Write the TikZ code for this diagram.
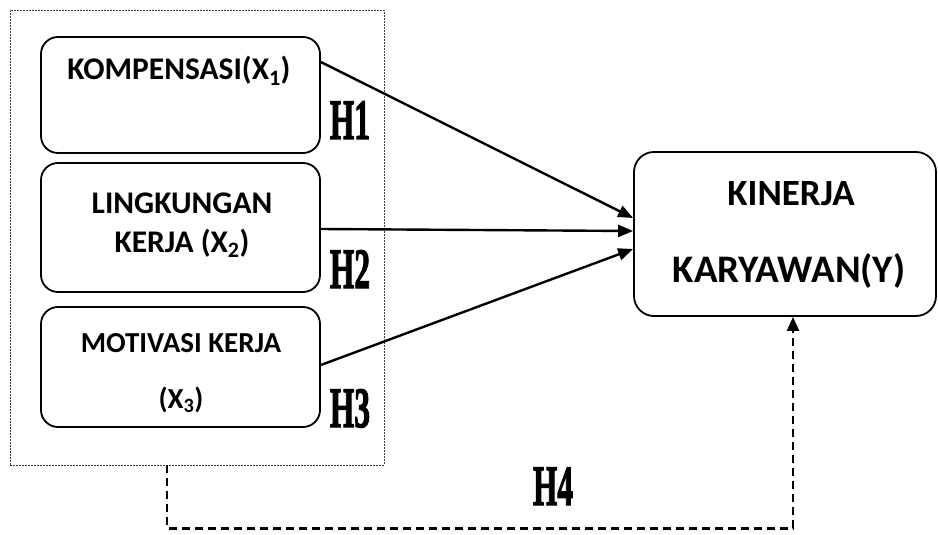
\documentclass[tikz,border=0pt]{standalone}
\usepackage{fontspec}
\setmainfont{Carlito}
\newfontface\hfont[FakeBold=2.5]{Liberation Serif Bold}
\usetikzlibrary{arrows.meta}

\tikzset{
  varbox/.style={draw, line width=1.8pt, rounded corners=17pt, minimum width=279pt, inner sep=0pt},
  boxtext/.style={anchor=base, inner sep=0pt, font=\bfseries},
  hlabel/.style={anchor=base, inner sep=0pt, font=\hfont\fontsize{57}{57}\selectfont, xscale=0.55},
  effect/.style={line width=2.4pt, -{Triangle[length=15pt, width=12pt]}},
  joint/.style={line width=2.4pt, dash pattern=on 8pt off 5pt, -{Triangle[length=14pt, width=12pt]}}
}

\begin{document}
\begin{tikzpicture}[x=1pt, y=-1pt]
  \useasboundingbox (0,0) rectangle (938,535);

  % Group of independent variables
  \node[draw=black!75, line width=0.9pt, dash pattern=on 2pt off 1pt,
        minimum width=374pt, minimum height=455pt, inner sep=0pt] (group) at (197,237.5) {};

  % Variable boxes
  \node[varbox, minimum height=116pt] (komp) at (180.5,95) {};
  \node[varbox, minimum height=129pt] (ling) at (180.5,227.5) {};
  \node[varbox, minimum height=120pt] (moti) at (180.5,367) {};
  \node[varbox, minimum width=302pt, minimum height=164pt, rounded corners=20pt] (kinerja) at (785,234) {};

  % Box texts
  \node[boxtext, font=\bfseries\fontsize{31.5}{32}\selectfont] (kompA) at (179,80) {KOMPENSASI(X\textsubscript{1})};
  \node[boxtext, font=\bfseries\fontsize{31.5}{32}\selectfont] (lingA) at (182,213) {LINGKUNGAN};
  \node[boxtext, font=\bfseries\fontsize{31.5}{32}\selectfont] (lingB) at (182,252) {KERJA (X\textsubscript{2})};
  \node[boxtext, font=\bfseries\fontsize{29}{30}\selectfont] (motiA) at (181,352) {MOTIVASI KERJA};
  \node[boxtext, font=\bfseries\fontsize{29}{30}\selectfont] (motiB) at (181,408) {(X\textsubscript{3})};
  \node[boxtext, font=\bfseries\fontsize{37}{38}\selectfont] (kinA) at (791,205) {KINERJA};
  \node[boxtext, font=\bfseries\fontsize{39}{40}\selectfont] (kinB) at (789,282) {KARYAWAN(Y)};

  % Hypothesis labels
  \node[hlabel] (h1) at (350,139) {H1};
  \node[hlabel] (h2) at (350,288) {H2};
  \node[hlabel] (h3) at (350,427) {H3};
  \node[hlabel] (h4) at (553,505) {H4};

  % Paths
  \draw[effect] ([yshift=33pt]komp.east) -- ([yshift=16pt]kinerja.west);
  \draw[effect] ([yshift=-1.5pt]ling.east) -- ([yshift=3pt]kinerja.west);
  \draw[effect] ([yshift=2pt]moti.east) -- ([yshift=-15pt]kinerja.west);
  \coordinate (jstart) at ([xshift=-30pt]group.south);
  \draw[joint] (jstart) -- ++(0,63) -| ([xshift=8pt]kinerja.south);
\end{tikzpicture}
\end{document}
